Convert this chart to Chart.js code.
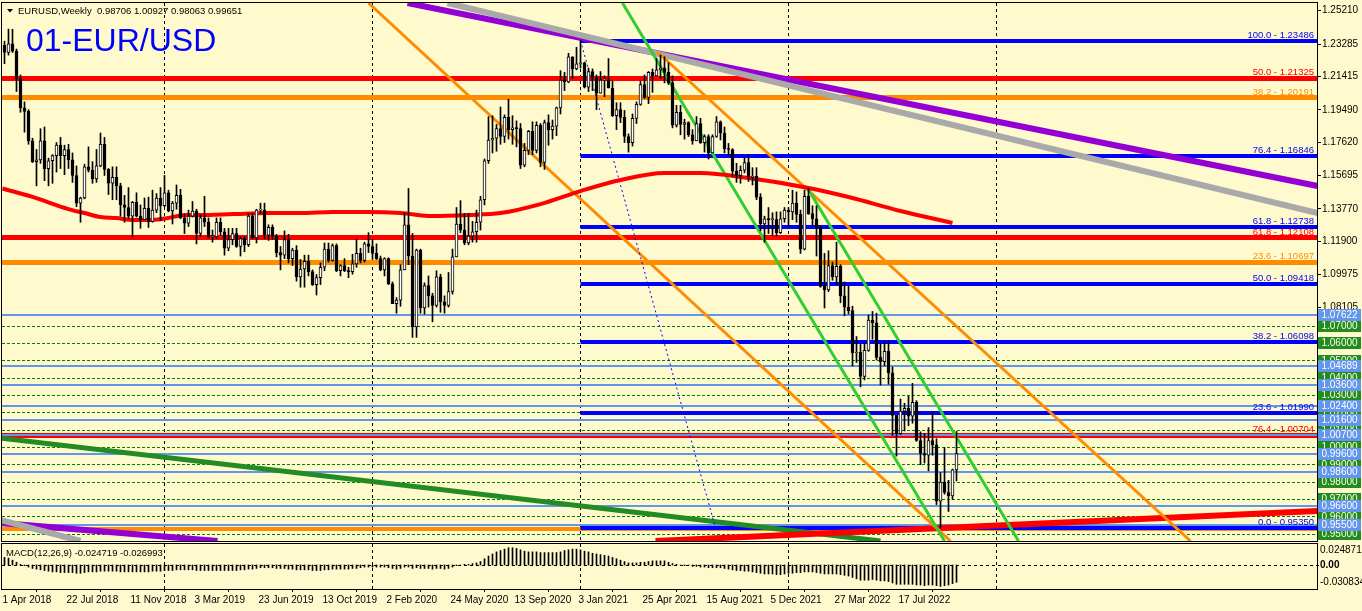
<!DOCTYPE html>
<html lang="en">
<head>
<meta charset="UTF-8">
<title>01-EUR/USD Weekly</title>
<script src="https://cdn.jsdelivr.net/npm/chart.js@4"></script>
<style>
    html, body { margin: 0; padding: 0; background: #FFFACD; }
    #wrap { position: relative; width: 1362px; height: 611px; background: #FFFACD; overflow: hidden; }
    #wrap canvas { position: absolute; left: 0; }
    #mainChart { top: 0; }
    #macdChart { top: 543px; }
</style>
</head>
<body>
<div id="wrap">
    <canvas id="mainChart" width="1362" height="543"></canvas>
    <canvas id="macdChart" width="1362" height="68"></canvas>
</div>
<script>
    // ---- weekly candles, 1 Apr 2018 .. 23 Oct 2022 (one value per week) ----
    const opens = [
        // 2018
        1.2322,1.2280,1.2330,1.2288,1.2130,1.1960,1.1940,1.1770,1.1650,1.1660,1.1770,1.1610,1.1655,1.1685,1.1745,1.1685,1.1720,1.1660,1.1570,1.1410,
        1.1440,1.1620,1.1600,1.1550,1.1625,1.1750,1.1605,1.1525,1.1560,1.1510,1.1400,1.1385,1.1335,1.1415,1.1335,1.1315,1.1380,1.1305,1.1370,
        // 2019
        1.1440,1.1395,1.1470,1.1365,1.1410,1.1455,1.1325,1.1295,1.1335,1.1365,1.1235,1.1325,1.1300,1.1215,1.1215,1.1300,1.1245,1.1150,1.1200,1.1235,
        1.1160,1.1205,1.1170,1.1335,1.1210,1.1370,1.1370,1.1225,1.1270,1.1220,1.1125,1.1110,1.1200,1.1090,1.1140,1.0985,1.1030,1.1075,1.1015,1.0940,
        1.0980,1.1040,1.1145,1.1080,1.1165,1.1020,1.1050,1.1020,1.1015,1.1060,1.1120,1.1080,
        // 2020
        1.1175,1.1160,1.1120,1.1090,1.1025,1.1090,1.0945,1.0830,1.0850,1.1025,1.1285,1.1105,1.0695,1.1140,1.0805,1.0935,1.0875,1.0820,1.0985,1.0840,
        1.0820,1.0900,1.1100,1.1290,1.1255,1.1180,1.1220,1.1245,1.1300,1.1430,1.1655,1.1775,1.1785,1.1840,1.1795,1.1905,1.1835,1.1845,1.1840,1.1630,
        1.1715,1.1825,1.1715,1.1860,1.1645,1.1875,1.1835,1.1855,1.1960,1.2120,1.2110,1.2255,1.2185,
        // 2021
        1.2215,1.2220,1.2080,1.2170,1.2135,1.2045,1.2120,1.2120,1.2075,1.1915,1.1950,1.1905,1.1795,1.1760,1.1900,1.1980,1.2095,1.2020,1.2165,1.2145,
        1.2180,1.2190,1.2165,1.2105,1.1860,1.1935,1.1865,1.1875,1.1805,1.1770,1.1870,1.1760,1.1795,1.1700,1.1795,1.1880,1.1815,1.1725,1.1720,1.1595,
        1.1570,1.1600,1.1645,1.1560,1.1565,1.1445,1.1290,1.1320,1.1315,1.1315,1.1240,1.1320,
        // 2022
        1.1370,1.1360,1.1410,1.1345,1.1145,1.1450,1.1350,1.1320,1.1270,1.0930,1.0910,1.1050,1.0985,1.1045,1.0875,1.0810,1.0790,1.0545,1.0550,1.0410,
        1.0560,1.0735,1.0720,1.0520,1.0495,1.0555,1.0430,1.0185,1.0080,1.0210,1.0225,1.0180,1.0260,1.0040,0.9965,0.9955,1.0040,1.0015,0.9690,0.9800,
        0.9740,0.9720,0.98706
    ];
    const highs = [
        // 2018
        1.2345,1.2415,1.2414,1.2300,1.2150,1.1995,1.1950,1.1785,1.1720,1.1840,1.1850,1.1670,1.1690,1.1760,1.1790,1.1745,1.1750,1.1700,1.1625,1.1445,
        1.1635,1.1735,1.1650,1.1720,1.1815,1.1790,1.1610,1.1620,1.1620,1.1525,1.1455,1.1500,1.1420,1.1470,1.1400,1.1440,1.1445,1.1485,1.1465,
        // 2019
        1.1500,1.1570,1.1485,1.1420,1.1515,1.1490,1.1345,1.1370,1.1420,1.1375,1.1340,1.1450,1.1325,1.1255,1.1325,1.1325,1.1265,1.1265,1.1265,1.1265,
        1.1215,1.1215,1.1350,1.1350,1.1375,1.1410,1.1410,1.1285,1.1285,1.1230,1.1160,1.1250,1.1230,1.1150,1.1165,1.1085,1.1110,1.1110,1.1025,1.0998,
        1.1065,1.1180,1.1180,1.1175,1.1175,1.1055,1.1090,1.1040,1.1115,1.1200,1.1150,1.1185,
        // 2020
        1.1240,1.1200,1.1175,1.1105,1.1095,1.1095,1.0955,1.0865,1.1055,1.1355,1.1495,1.1235,1.1145,1.1145,1.0950,1.0990,1.0890,1.1020,1.1000,1.0875,
        1.1010,1.1145,1.1385,1.1425,1.1350,1.1350,1.1305,1.1370,1.1450,1.1665,1.1910,1.1915,1.1865,1.1965,1.1920,1.2010,1.1915,1.1885,1.1870,1.1755,
        1.1830,1.1880,1.1880,1.1870,1.1890,1.1920,1.1890,1.1965,1.2175,1.2165,1.2275,1.2255,1.2310,
        // 2021
        1.2349,1.2225,1.2190,1.2185,1.2150,1.2170,1.2145,1.2245,1.2115,1.1990,1.1990,1.1945,1.1810,1.1925,1.1995,1.2115,1.2150,1.2170,1.2185,1.2245,
        1.2265,1.2255,1.2220,1.2145,1.1975,1.1975,1.1895,1.1880,1.1835,1.1910,1.1900,1.1805,1.1805,1.1805,1.1910,1.1885,1.1850,1.1755,1.1725,1.1640,
        1.1625,1.1670,1.1690,1.1615,1.1615,1.1465,1.1335,1.1385,1.1355,1.1360,1.1360,1.1385,
        // 2022
        1.1385,1.1485,1.1475,1.1370,1.1485,1.1495,1.1395,1.1395,1.1280,1.1120,1.1135,1.1070,1.1185,1.1055,1.0955,1.0935,1.0815,1.0640,1.0595,1.0605,
        1.0765,1.0785,1.0775,1.0600,1.0610,1.0615,1.0465,1.0185,1.0280,1.0255,1.0295,1.0370,1.0270,1.0090,1.0080,1.0115,1.0200,1.0050,0.9855,0.9999,
        0.9810,0.9875,1.00927
    ];
    const lows = [
        // 2018
        1.2215,1.2265,1.2280,1.2055,1.1935,1.1820,1.1750,1.1645,1.1510,1.1640,1.1540,1.1510,1.1525,1.1590,1.1610,1.1575,1.1610,1.1530,1.1390,1.1300,
        1.1435,1.1590,1.1525,1.1530,1.1620,1.1570,1.1460,1.1430,1.1430,1.1335,1.1300,1.1320,1.1215,1.1330,1.1265,1.1320,1.1270,1.1300,1.1355,
        // 2019
        1.1310,1.1390,1.1360,1.1290,1.1375,1.1320,1.1235,1.1275,1.1330,1.1175,1.1220,1.1275,1.1210,1.1185,1.1205,1.1225,1.1110,1.1135,1.1170,1.1155,
        1.1105,1.1130,1.1160,1.1205,1.1180,1.1350,1.1205,1.1195,1.1200,1.1100,1.1025,1.1090,1.1065,1.1050,1.0960,1.0925,1.0925,1.0990,1.0935,1.0880,
        1.0940,1.1020,1.1070,1.1075,1.1015,1.0990,1.1015,1.0980,1.1000,1.1040,1.1065,1.1070,
        // 2020
        1.1125,1.1085,1.1085,1.1020,1.0990,1.0940,1.0830,1.0775,1.0815,1.1025,1.1055,1.0635,1.0635,1.0775,1.0770,1.0810,1.0725,1.0810,1.0780,1.0775,
        1.0810,1.0885,1.1100,1.1240,1.1170,1.1170,1.1185,1.1185,1.1255,1.1400,1.1640,1.1700,1.1710,1.1750,1.1760,1.1780,1.1750,1.1735,1.1610,1.1620,
        1.1690,1.1690,1.1700,1.1620,1.1605,1.1745,1.1780,1.1800,1.1925,1.2060,1.2105,1.2130,1.2180,
        // 2021
        1.2190,1.2075,1.2055,1.2060,1.1950,1.2045,1.2025,1.2075,1.1910,1.1835,1.1875,1.1760,1.1705,1.1740,1.1870,1.1975,1.2015,1.1985,1.2050,1.2145,
        1.2130,1.2105,1.2095,1.1845,1.1850,1.1805,1.1780,1.1795,1.1750,1.1770,1.1755,1.1705,1.1665,1.1700,1.1790,1.1775,1.1700,1.1685,1.1565,1.1530,
        1.1525,1.1585,1.1535,1.1515,1.1430,1.1250,1.1185,1.1235,1.1225,1.1220,1.1235,1.1300,
        // 2022
        1.1275,1.1315,1.1300,1.1120,1.1140,1.1345,1.1280,1.1105,1.0925,1.0805,1.0900,1.0965,1.0945,1.0835,1.0760,1.0770,1.0470,1.0490,1.0350,1.0390,
        1.0555,1.0625,1.0505,1.0360,1.0470,1.0365,1.0070,0.9950,1.0075,1.0095,1.0125,1.0140,1.0035,0.9900,0.9910,0.9865,0.9955,0.9670,0.9535,0.9730,
        0.9630,0.9700,0.98063
    ];
    const closes = [
        // 2018
        1.2280,1.2330,1.2288,1.2130,1.1960,1.1940,1.1770,1.1650,1.1660,1.1770,1.1610,1.1655,1.1685,1.1745,1.1685,1.1720,1.1660,1.1570,1.1410,1.1440,
        1.1620,1.1600,1.1550,1.1625,1.1750,1.1605,1.1525,1.1560,1.1510,1.1400,1.1385,1.1335,1.1415,1.1335,1.1315,1.1380,1.1305,1.1370,1.1440,
        // 2019
        1.1395,1.1470,1.1365,1.1410,1.1455,1.1325,1.1295,1.1335,1.1365,1.1235,1.1325,1.1300,1.1215,1.1215,1.1300,1.1245,1.1150,1.1200,1.1235,1.1160,
        1.1205,1.1170,1.1335,1.1210,1.1370,1.1370,1.1225,1.1270,1.1220,1.1125,1.1110,1.1200,1.1090,1.1140,1.0985,1.1030,1.1075,1.1015,1.0940,1.0980,
        1.1040,1.1145,1.1080,1.1165,1.1020,1.1050,1.1020,1.1015,1.1060,1.1120,1.1080,1.1175,
        // 2020
        1.1160,1.1120,1.1090,1.1025,1.1090,1.0945,1.0830,1.0850,1.1025,1.1285,1.1105,1.0695,1.1140,1.0805,1.0935,1.0875,1.0820,1.0985,1.0840,1.0820,
        1.0900,1.1100,1.1290,1.1255,1.1180,1.1220,1.1245,1.1300,1.1430,1.1655,1.1775,1.1785,1.1840,1.1795,1.1905,1.1835,1.1845,1.1840,1.1630,1.1715,
        1.1825,1.1715,1.1860,1.1645,1.1875,1.1835,1.1855,1.1960,1.2120,1.2110,1.2255,1.2185,1.2215,
        // 2021
        1.2220,1.2080,1.2170,1.2135,1.2045,1.2120,1.2120,1.2075,1.1915,1.1950,1.1905,1.1795,1.1760,1.1900,1.1980,1.2095,1.2020,1.2165,1.2145,1.2180,
        1.2190,1.2165,1.2105,1.1860,1.1935,1.1865,1.1875,1.1805,1.1770,1.1870,1.1760,1.1795,1.1700,1.1795,1.1880,1.1815,1.1725,1.1720,1.1595,1.1570,
        1.1600,1.1645,1.1560,1.1565,1.1445,1.1290,1.1320,1.1315,1.1315,1.1240,1.1320,1.1370,
        // 2022
        1.1360,1.1410,1.1345,1.1145,1.1450,1.1350,1.1320,1.1270,1.0930,1.0910,1.1050,1.0985,1.1045,1.0875,1.0810,1.0790,1.0545,1.0550,1.0410,1.0560,
        1.0735,1.0720,1.0520,1.0495,1.0555,1.0430,1.0185,1.0080,1.0210,1.0225,1.0180,1.0260,1.0040,0.9965,0.9955,1.0040,1.0015,0.9690,0.9800,0.9740,
        0.9720,0.98706,0.99651
    ];

    // MACD(12,26,9) main line, drawn as histogram
    const macdHist = [
        0.011,0.010,0.007,0.004,0.001,
        -0.001,-0.003,-0.005,-0.006,-0.007,-0.008,-0.009,-0.010,
        -0.010,-0.011,-0.011,-0.011,-0.011,-0.012,-0.012,-0.011,-0.010,-0.010,-0.010,-0.009,-0.009,-0.009,-0.009,-0.009,-0.010,-0.010,-0.010,-0.010,-0.010,-0.010,-0.010,-0.010,-0.009,-0.009,-0.009,
        -0.008,-0.008,-0.008,-0.007,-0.007,-0.007,-0.007,-0.007,-0.008,-0.008,-0.008,-0.008,-0.008,-0.008,-0.008,-0.008,-0.008,-0.008,-0.008,-0.007,
        -0.007,-0.006,-0.006,-0.005,-0.004,-0.004,-0.004,-0.004,-0.005,-0.005,-0.005,-0.006,-0.006,-0.007,-0.007,
        -0.007,-0.007,-0.008,-0.008,-0.008,-0.007,-0.007,-0.006,-0.006,-0.006,-0.006,-0.006,-0.005,-0.005,-0.004,
        -0.003,-0.003,-0.003,-0.003,-0.003,-0.003,-0.004,-0.005,-0.006,-0.005,-0.003,-0.003,-0.005,-0.004,-0.005,
        -0.005,-0.005,-0.006,-0.005,-0.005,-0.006,-0.005,-0.003,-0.001,0.000,0.001,0.001,0.002,0.003,0.005,
        0.009,0.013,0.016,0.019,0.021,0.023,0.025,0.025,0.024,0.022,0.020,0.019,0.019,0.019,0.018,0.018,0.018,0.018,0.018,0.019,0.021,0.022,0.023,0.023,0.022,
        0.020,0.019,0.017,0.016,0.015,0.014,0.013,0.011,0.009,0.007,0.005,0.003,0.003,0.003,0.004,0.004,0.005,0.006,0.006,0.006,0.006,0.004,0.002,0.001,0.000,
        -0.001,-0.001,-0.002,-0.002,-0.003,-0.003,-0.004,-0.004,-0.004,-0.004,-0.005,-0.006,-0.007,-0.008,-0.008,-0.009,-0.009,-0.010,-0.011,-0.012,-0.013,-0.013,-0.013,-0.014,-0.014,-0.013,
        -0.012,-0.012,-0.011,-0.011,-0.010,-0.010,-0.010,-0.011,-0.012,-0.013,-0.013,-0.013,-0.013,-0.014,-0.015,-0.016,-0.018,-0.020,-0.022,-0.022,
        -0.022,-0.021,-0.022,-0.023,-0.023,-0.024,-0.026,-0.028,-0.028,-0.028,-0.028,-0.028,-0.029,-0.029,-0.030,-0.029,-0.029,-0.030,-0.031,-0.030,-0.029,-0.027,-0.025
    ];

    // moving average (bar index / price)
    const maIdx = [-0.5, 7, 16, 20, 24, 28, 32, 37, 41, 45, 49, 57, 66, 74, 82, 91, 99, 107, 116, 124, 134, 144, 154, 165, 174, 186, 201, 211, 224, 237];
    const maVal = [1.1495, 1.1446, 1.1376, 1.1353, 1.1330, 1.1324, 1.1313, 1.1313, 1.1325, 1.1342, 1.1342, 1.1347, 1.1353, 1.1353, 1.1359,
                   1.1359, 1.1353, 1.1336, 1.1342, 1.1353, 1.1405, 1.1480, 1.1544, 1.1584, 1.1584, 1.1555, 1.1498, 1.1446, 1.1365, 1.1296];

    // time axis
    const dateIdx = [0, 16, 32, 48, 64, 80, 96, 112, 128, 144, 160, 176, 192, 208, 224];
    const dateLabels = ['1 Apr 2018', '22 Jul 2018', '11 Nov 2018', '3 Mar 2019', '23 Jun 2019', '13 Oct 2019', '2 Feb 2020',
                        '24 May 2020', '13 Sep 2020', '3 Jan 2021', '25 Apr 2021', '15 Aug 2021', '5 Dec 2021', '27 Mar 2022', '17 Jul 2022'];
    const periodSepIdx = [40, 92, 144, 196, 248];
    const priceTicks = [1.25210, 1.23285, 1.21415, 1.19490, 1.17620, 1.15695, 1.13770, 1.11900, 1.09975, 1.08105, 0.94795];

    // fibonacci levels
    const fibBlueLvl = ['100.0', '76.4', '61.8', '50.0', '38.2', '23.6', '0.0'];
    const fibBlue = [1.23486, 1.16846, 1.12738, 1.09418, 1.06098, 1.01990, 0.95350];
    const fibBlueStart = 144;
    const fibRedLvl = ['50.0', '61.8', '76.4'];
    const fibRed = [1.21325, 1.12108, 1.00704];
    const fibOrangeLvl = ['38.2', '23.6'];
    const fibOrange = [1.20191, 1.10697];
    const orangeBase = [0.9530];

    // horizontal support / resistance
    const sLevels = [1.07622, 1.04689, 1.03600, 1.02400, 1.01600, 1.00700, 0.99600, 0.98600, 0.96600, 0.95500];
    const roundLevels = [1.07, 1.06, 1.05, 1.04, 1.03, 1.02, 1.01, 1.00, 0.99, 0.98, 0.97, 0.96, 0.95];

    // trend lines: [bar1, price1, bar2, price2]
    const purpleLines = [[100.75, 1.25657, 328.25, 1.15092], [-1, 0.95637, 53.25, 0.94598]];
    const grayLines = [[110.75, 1.25657, 328.25, 1.13534], [-1, 0.95810, 19, 0.94598]];
    const greenLines = [[-1, 1.00544, 219, 0.94598]];
    const redLines = [[162.75, 0.94598, 328.25, 0.96330]];
    const orangeLines = [[91, 1.25657, 236.5, 0.94598], [163.25, 1.22828, 296.5, 0.94598]];
    const limeLines = [[154.5, 1.25657, 235, 0.94598], [200.75, 1.14977, 253.5, 0.94598]];
    const dottedLines = [[144, 1.23486, 177.75, 0.95350]];

    const symbolText = 'EURUSD,Weekly  0.98706 1.00927 0.98063 0.99651';
    const bigTitle = '01-EUR/USD';
    const macdText = 'MACD(12,26,9) -0.024719 -0.026993';
    const macdLabels = [0.024871, 0, -0.030834];

    // ---- layout ----
    const FONT = '"Liberation Sans", Arial, sans-serif';
    const xMin = -0.625, xMax = 328.125;
    const yMin = 0.94598, yMax = 1.25657;

    Chart.defaults.font.family = FONT;
    Chart.defaults.font.size = 10;
    Chart.defaults.color = '#000';

    function crisp(v, w) { return w % 2 ? Math.floor(v) + 0.5 : Math.round(v); }

    function seg(ctx, x1, y1, x2, y2, color, width, dash) {
        ctx.beginPath();
        ctx.strokeStyle = color;
        ctx.lineWidth = width;
        ctx.setLineDash(dash || []);
        ctx.moveTo(x1, y1);
        ctx.lineTo(x2, y2);
        ctx.stroke();
    }

    function levels(chart, prices, from, color, width, dash) {
        const {chartArea: a, scales: {x, y}} = chart;
        const x1 = from == null ? a.left : x.getPixelForValue(from);
        prices.forEach(p => {
            const py = crisp(y.getPixelForValue(p), width);
            seg(chart.ctx, x1, py, a.right, py, color, width, dash);
        });
    }

    function trends(chart, list, color, width, dash) {
        const {x, y} = chart.scales;
        list.forEach(t => seg(chart.ctx, x.getPixelForValue(t[0]), y.getPixelForValue(t[1]),
            x.getPixelForValue(t[2]), y.getPixelForValue(t[3]), color, width, dash));
    }

    function separators(chart) {
        const {chartArea: a, scales: {x}} = chart;
        periodSepIdx.forEach(i => {
            const px = crisp(x.getPixelForValue(i), 1);
            seg(chart.ctx, px, a.top, px, a.bottom, '#000', 1, [3, 3]);
        });
    }

    function frame(chart) {
        const {ctx, chartArea: a} = chart;
        ctx.save();
        ctx.setLineDash([]);
        ctx.strokeStyle = '#000';
        ctx.lineWidth = 1;
        ctx.strokeRect(a.left - 0.5, a.top - 0.5, a.right - a.left + 1, a.bottom - a.top + 1);
        ctx.restore();
    }

    // keep the axes from reserving room for their outer labels
    function noPad(s) {
        s.paddingTop = 0;
        s.paddingBottom = 0;
        s.paddingLeft = 0;
        s.paddingRight = 0;
    }

    const mainObjects = {
        id: 'mainObjects',
        beforeDatasetsDraw(chart) {
            const {ctx, chartArea: a} = chart;
            ctx.save();
            ctx.beginPath();
            ctx.rect(a.left, a.top, a.right - a.left, a.bottom - a.top);
            ctx.clip();
            separators(chart);
            levels(chart, roundLevels, null, '#008000', 1, [3, 2]);
            levels(chart, orangeBase, null, '#FF8C00', 4);
            levels(chart, fibOrange, null, '#FF8C00', 5);
            levels(chart, fibRed, null, '#FF0000', 5);
            levels(chart, sLevels, null, '#6495ED', 2);
            levels(chart, fibBlue, fibBlueStart, '#0000FF', 4);
            trends(chart, greenLines, '#228B22', 5);
            trends(chart, purpleLines, '#9400D3', 6);
            trends(chart, grayLines, '#A9A9A9', 6);
            trends(chart, redLines, '#FF0000', 6);
            trends(chart, orangeLines, '#FF8C00', 3);
            trends(chart, limeLines, '#32CD32', 3);
            trends(chart, dottedLines, '#0000FF', 1, [2, 3]);
            ctx.restore();
        },
        afterDatasetsDraw(chart) {
            const {ctx, chartArea: a, scales: {y}} = chart;
            ctx.save();
            ctx.font = '9.5px ' + FONT;
            ctx.textAlign = 'right';
            ctx.textBaseline = 'alphabetic';
            const put = (vals, lvl, color) => vals.forEach((p, k) => {
                ctx.fillStyle = color;
                ctx.fillText(lvl[k] + ' - ' + p.toFixed(5), a.right - 3, Math.round(y.getPixelForValue(p)) - 3);
            });
            put(fibBlue, fibBlueLvl, '#0000FF');
            put(fibRed, fibRedLvl, '#FF0000');
            put(fibOrange, fibOrangeLvl, '#FF8C00');
            ctx.restore();
        },
        afterDraw(chart) {
            const {ctx, chartArea: a, scales: {y}} = chart;
            frame(chart);
            ctx.save();
            // price boxes on the right scale
            ctx.font = '10px ' + FONT;
            ctx.textAlign = 'center';
            ctx.textBaseline = 'middle';
            const box = (p, fill, color) => {
                const py = Math.round(y.getPixelForValue(p));
                ctx.fillStyle = fill;
                ctx.fillRect(a.right + 1, py - 6, 43, 12);
                ctx.fillStyle = color;
                ctx.fillText(p.toFixed(5), a.right + 22.5, py + 0.5);
            };
            roundLevels.forEach(p => box(p, '#228B22', '#FFFFE0'));
            sLevels.forEach(p => box(p, '#6495ED', '#FFFFFF'));
            // titles
            ctx.fillStyle = '#000';
            ctx.beginPath();
            ctx.moveTo(7, 9); ctx.lineTo(13, 9); ctx.lineTo(10, 12.5); ctx.closePath();
            ctx.fill();
            ctx.textAlign = 'left';
            ctx.font = '9.5px ' + FONT;
            ctx.fillText(symbolText, 18, 11);
            ctx.font = '32px ' + FONT;
            ctx.textBaseline = 'alphabetic';
            ctx.fillStyle = '#0000FF';
            ctx.fillText(bigTitle, 26, 51);
            ctx.restore();
        }
    };

    new Chart(document.getElementById('mainChart'), {
        type: 'bar',
        data: {
            datasets: [
                {
                    type: 'bar',
                    data: closes.map((c, i) => ({x: i, y: [opens[i], c]})),
                    backgroundColor: closes.map((c, i) => c >= opens[i] ? '#FFFFFF' : '#000000'),
                    borderColor: '#000',
                    borderWidth: 1,
                    borderSkipped: false,
                    barThickness: 3,
                    minBarLength: 1,
                    grouped: false,
                    order: 1
                },
                {
                    type: 'bar',
                    data: closes.map((c, i) => ({x: i, y: [lows[i], highs[i]]})),
                    backgroundColor: '#000',
                    barThickness: 1,
                    grouped: false,
                    order: 2
                },
                {
                    type: 'line',
                    data: maIdx.map((x, k) => ({x: x, y: maVal[k]})),
                    borderColor: '#FF0000',
                    borderWidth: 4,
                    pointRadius: 0,
                    cubicInterpolationMode: 'monotone',
                    order: 3
                }
            ]
        },
        options: {
            responsive: false,
            animation: false,
            devicePixelRatio: 1,
            events: [],
            layout: {padding: {left: 2, top: 3, right: 0, bottom: 2}},
            plugins: {legend: {display: false}, tooltip: {enabled: false}},
            scales: {
                x: {type: 'linear', min: xMin, max: xMax, offset: false, display: false},
                y: {
                    type: 'linear',
                    position: 'right',
                    min: yMin,
                    max: yMax,
                    afterFit(s) { s.width = 45; noPad(s); },
                    afterBuildTicks(s) { s.ticks = priceTicks.map(v => ({value: v})); },
                    ticks: {autoSkip: false, padding: 1, color: '#000', font: {size: 10}, callback: v => v.toFixed(5)},
                    grid: {drawOnChartArea: false, color: '#000', tickLength: 4},
                    border: {display: false}
                }
            }
        },
        plugins: [mainObjects]
    });

    const macdObjects = {
        id: 'macdObjects',
        beforeDatasetsDraw(chart) {
            const {ctx, chartArea: a, scales: {y}} = chart;
            ctx.save();
            separators(chart);
            const zy = crisp(y.getPixelForValue(0), 1);
            seg(ctx, a.left, zy, a.right + 3, zy, '#000', 1, [3, 3]);
            ctx.restore();
        },
        afterDraw(chart) {
            const {ctx, chartArea: a, scales: {y}} = chart;
            frame(chart);
            ctx.save();
            ctx.fillStyle = '#000';
            ctx.textBaseline = 'middle';
            ctx.textAlign = 'left';
            macdLabels.forEach(v => {
                const py = Math.min(Math.max(y.getPixelForValue(v), a.top + 6), a.bottom - 7);
                ctx.font = (v === 0 ? 'bold ' : '') + '10px ' + FONT;
                ctx.fillText(v === 0 ? '0.00' : v.toFixed(6), a.right + 3, py);
            });
            ctx.font = '9.5px ' + FONT;
            ctx.fillText(macdText, 6, 10);
            ctx.restore();
        }
    };

    new Chart(document.getElementById('macdChart'), {
        type: 'bar',
        data: {
            datasets: [{
                data: macdHist.map((v, i) => ({x: i, y: v})),
                backgroundColor: '#000',
                borderWidth: 0,
                barThickness: 1
            }]
        },
        options: {
            responsive: false,
            animation: false,
            devicePixelRatio: 1,
            events: [],
            layout: {padding: {left: 2, top: 1, right: 0, bottom: 0}},
            plugins: {legend: {display: false}, tooltip: {enabled: false}},
            scales: {
                x: {
                    type: 'linear',
                    min: xMin,
                    max: xMax,
                    offset: false,
                    afterFit(s) { s.height = 22; noPad(s); },
                    afterBuildTicks(s) { s.ticks = dateIdx.map(v => ({value: v})); },
                    ticks: {autoSkip: false, maxRotation: 0, align: 'start', labelOffset: -2, padding: 2,
                            color: '#000', font: {size: 10}, callback: (v, k) => dateLabels[k]},
                    grid: {drawOnChartArea: false, color: '#000', tickLength: 3},
                    border: {display: false}
                },
                y: {
                    type: 'linear',
                    position: 'right',
                    min: -0.0348,
                    max: 0.03045,
                    afterFit(s) { s.width = 45; noPad(s); },
                    ticks: {display: false},
                    grid: {display: false},
                    border: {display: false}
                }
            }
        },
        plugins: [macdObjects]
    });
</script>
</body>
</html>
